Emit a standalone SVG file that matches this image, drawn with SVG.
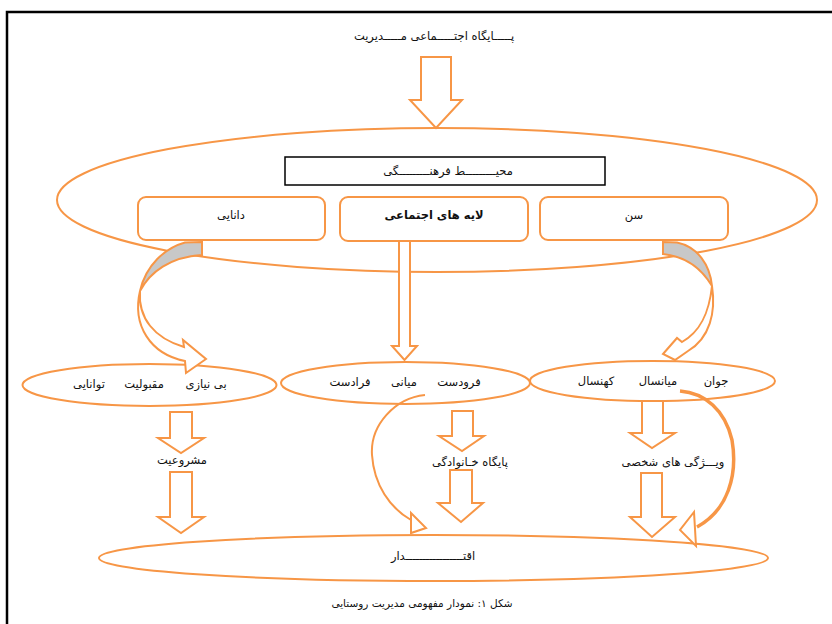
<svg xmlns="http://www.w3.org/2000/svg" width="832" height="624" viewBox="0 0 832 624">
<style>
.o{fill:none;stroke:#F79646;stroke-width:2}
.ow{fill:#fff;stroke:#F79646;stroke-width:2;stroke-linejoin:miter}
.og{fill:#C8C8C8;stroke:#F79646;stroke-width:2}
.t{font-family:"DejaVu Sans",sans-serif;font-size:11.5px;fill:#111;text-anchor:middle}
.b{font-weight:bold}
.s{font-size:10.5px}
</style>
<rect width="832" height="624" fill="#fff"/>
<path d="M7,624 V12 H832" fill="none" stroke="#000" stroke-width="2.5"/>

<g id="top-label"><text class="t" x="434" y="40">پـــــایگاه اجتـــــماعی مـــــدیریت</text></g>

<g id="culture-ellipse"><ellipse class="o" cx="437" cy="200" rx="380" ry="72"/></g>
<g id="culture"><rect x="285" y="157" width="320" height="28" fill="#fff" stroke="#000" stroke-width="1.5"/><text class="t" x="448" y="175">محیـــــــــط فرهنـــــــــگی</text></g>
<g id="knowledge"><rect class="ow" x="138" y="197" width="187" height="43" rx="8"/><text class="t" x="231" y="219">دانایی</text></g>
<g id="strata"><rect class="ow" x="340" y="197" width="188" height="44" rx="8"/><text class="t b" x="434" y="219">لایه های اجتماعی</text></g>
<g id="age"><rect class="ow" x="540" y="197" width="188" height="43" rx="8"/><text class="t" x="634" y="219">سن</text></g>

<g id="row-left"><ellipse class="o" cx="149.5" cy="385" rx="127" ry="21"/>
<text class="t" x="206" y="388">بی نیازی</text><text class="t" x="144" y="388">مقبولیت</text><text class="t" x="89" y="388">توانایی</text></g>
<g id="row-mid"><ellipse class="o" cx="405.5" cy="383" rx="124.5" ry="21"/>
<text class="t" x="459" y="386">فرودست</text><text class="t" x="404" y="386">میانی</text><text class="t" x="350" y="386">فرادست</text></g>
<g id="row-right"><ellipse class="o" cx="652.5" cy="381" rx="122.5" ry="20"/>
<text class="t" x="716" y="385">جوان</text><text class="t" x="658" y="385">میانسال</text><text class="t" x="596" y="385">کهنسال</text></g>

<g id="legitimacy"><text class="t" x="182" y="464">مشروعیت</text></g>
<g id="family"><text class="t" x="470" y="466">پایگاه خـانوادگی</text></g>
<g id="personal"><text class="t" x="673" y="466">ویـــژگی های شخصی</text></g>

<g id="power"><ellipse class="o" cx="433.5" cy="558" rx="334.5" ry="23"/><text class="t" x="433" y="560">اقتـــــــــــــــــدار</text></g>
<g id="caption"><text class="t s" x="422" y="607">شکل ۱: نمودار مفهومی مدیریت روستایی</text></g>

<g id="connectors">
<path class="ow" d="M421,57 H451 V100 H462 L436,128 L410,100 H421 Z"/>
<path class="ow" d="M399,241 H410 V346 H417 L404.5,360 L392,346 H399 Z"/>
<path class="og" d="M202,242 L185,242.5 C165,248 146,265 140,291 C150,272 170,257 202,255 Z"/>
<path class="ow" d="M140,291 C138,318 154,338 184,347 L183,340 L206,359 L186,373 L185,361 C150,354 132,325 140,291 Z"/>
<path class="og" d="M663,242 L663,254 C682,256 700,266 712,286 C710,265 698,247 677,242.5 Z"/>
<path class="ow" d="M712,286 C716,312 710,338 688,351 L675,360 L663,354 L677,338 L682,342 C700,332 709,314 712,286 Z"/>
<path class="ow" d="M170,412 H192 V438 H204 L181,453 L158,438 H170 Z"/>
<path class="ow" d="M170,472 H192 V517 H204 L181,533 L158,517 H170 Z"/>
<path class="ow" d="M452,411 H473 V436 H484 L462,451 L439,436 H452 Z"/>
<path class="ow" d="M450,470 H472 V503 H483 L461,522 L438,503 H450 Z"/>
<path class="ow" d="M642,401 H663 V433 H675 L652,448 L630,433 H642 Z"/>
<path class="ow" d="M641,473 H662 V517 H675 L652,537 L630,517 H641 Z"/>
<path class="o" d="M425,395 C395,398 370,425 372,455 C374,485 390,508 411,520"/>
<path class="ow" d="M411,513 L426,528 L411,533 Z"/>
<path fill="none" stroke="#F79646" stroke-width="3.5" d="M680,391 C705,393 725,410 732,440 C738,475 728,510 697,527"/>
<path class="ow" d="M694,512 L680,530 L696,546 Z"/>
</g>
</svg>
